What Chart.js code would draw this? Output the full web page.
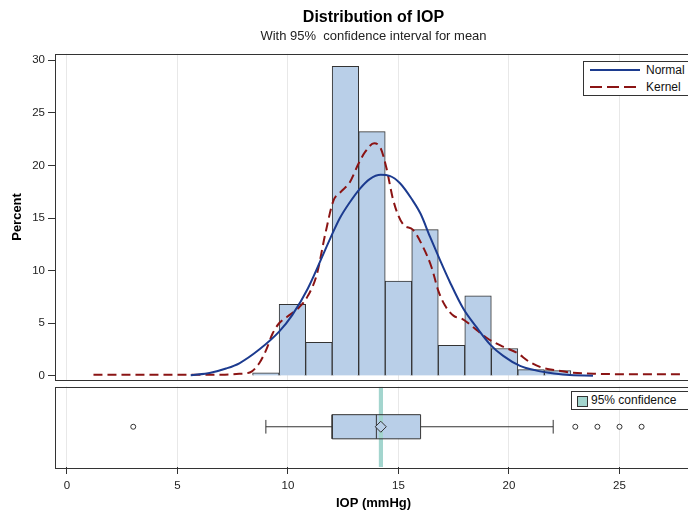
<!DOCTYPE html>
<html>
<head>
<meta charset="utf-8">
<script src="https://cdn.jsdelivr.net/npm/chart.js@4.4.1/dist/chart.umd.min.js"></script>
<style>
  html, body { margin: 0; padding: 0; width: 688px; height: 511px; overflow: hidden; background: #fff; }
  #wrap { position: relative; width: 688px; height: 511px; overflow: hidden; }
  canvas { position: absolute; left: 0; }
  #histChart { top: 0; }
  #boxChart { top: 380px; }
  .legend { position: absolute; background: #fff; border: 1px solid #333; box-sizing: border-box;
            font: 12px "Liberation Sans", Arial, sans-serif; color: #111; }
  .legend span, .legend svg, .legend i { position: absolute; }
  .legend span { line-height: 14px; white-space: nowrap; }
</style>
</head>
<body>
<div id="wrap">
  <canvas id="histChart" width="700" height="390"></canvas>
  <canvas id="boxChart" width="700" height="131"></canvas>

  <div class="legend" style="left:583px; top:61px; width:120px; height:35px;">
    <svg style="left:6px; top:3px" width="50" height="10"><line x1="0" y1="5" x2="50" y2="5" stroke="#1c3b8f" stroke-width="2"/></svg>
    <span style="left:62px; top:1px">Normal</span>
    <svg style="left:6px; top:20px" width="50" height="10"><line x1="0" y1="5" x2="50" y2="5" stroke="#8b1414" stroke-width="2" stroke-dasharray="12,5"/></svg>
    <span style="left:62px; top:18px">Kernel</span>
  </div>

  <div class="legend" style="left:571px; top:391px; width:125px; height:19px;">
    <i style="left:5px; top:4px; width:9px; height:9px; background:#a3d5ce; border:1px solid #333;"></i>
    <span style="left:19px; top:1px">95% confidence</span>
  </div>
</div>

<script>
// histogram bins (midpoints, width 1.2) and percent per bin
const binMid = [9.0, 10.2, 11.4, 12.6, 13.8, 15.0, 16.2, 17.4, 18.6, 19.8, 21.0, 22.2];
const binPct = [0.3, 6.8, 3.2, 29.4, 23.2, 9.0, 13.9, 2.9, 7.6, 2.6, 0.6, 0.5];

// fitted normal curve
const normalX = [5.6, 6.5, 7.2, 7.8, 8.7, 9.6, 10.2, 10.9, 11.9, 12.35, 12.8, 13.26, 13.7, 14.2, 14.6,
                 15.07, 15.6, 16.0, 16.43, 16.88, 17.33, 17.93, 18.54, 19.14, 19.74, 20.5, 21.25, 21.8, 22.6, 23.8];
const normalY = [0.05, 0.3, 0.7, 1.2, 2.5, 4.2, 5.8, 8.3, 13.0, 15.0, 16.5, 17.8, 18.7, 19.1, 19.0,
                 18.3, 16.8, 15.4, 13.2, 11.0, 8.9, 6.4, 4.6, 3.0, 1.9, 0.95, 0.5, 0.3, 0.1, 0.02];

// kernel density curve
const kernelX = [1.2, 3, 5, 7, 7.8, 8.3, 8.7, 9.0, 9.3, 9.6, 9.95, 10.5, 10.9, 11.3, 11.7, 12.05, 12.4, 12.8,
                 13.2, 13.5, 13.9, 14.2, 14.45, 14.75, 15.0, 15.25, 15.65, 16.1, 16.5, 16.8, 17.1, 17.5, 17.9,
                 18.4, 19.0, 19.7, 20.35, 20.95, 21.55, 22.2, 22.9, 24.0, 26.0, 27.8];
const kernelY = [0.1, 0.1, 0.1, 0.12, 0.2, 0.35, 1.2, 2.4, 4.0, 5.0, 5.6, 6.5, 7.6, 9.6, 13.6, 16.6, 17.5, 18.4,
                 20.2, 21.3, 22.1, 21.6, 19.8, 16.8, 15.2, 14.3, 13.9, 12.3, 10.3, 8.1, 6.7, 5.7, 5.4,
                 4.6, 3.6, 2.8, 2.2, 1.3, 0.75, 0.5, 0.3, 0.2, 0.15, 0.15];

// box plot summary
const whiskerLow = 9, q1 = 12, median = 14, q3 = 16, whiskerHigh = 22, mean = 14.2;
const outliers = [3, 23, 24, 25, 26];
const ciMean = [14.1, 14.3];

const FONT = '"Liberation Sans", Arial, sans-serif';
const X_MIN = -0.54, X_MAX = 28.28;
const barFill = '#b9cfe8', dark = '#333333', gridCol = '#e8e8e8';

const pts = (xs, ys) => xs.map((x, i) => ({ x: x, y: ys[i] }));

const frame = {
  id: 'frame',
  afterDatasetsDraw(chart) {
    const { ctx, chartArea: a } = chart;
    ctx.save();
    ctx.strokeStyle = dark;
    ctx.lineWidth = 1;
    ctx.strokeRect(Math.round(a.left) + 0.5, Math.round(a.top) + 0.5,
                   Math.round(a.right - a.left), Math.round(a.bottom - a.top));
    ctx.restore();
  }
};

new Chart(document.getElementById('histChart'), {
  type: 'bar',
  data: {
    datasets: [
      {
        type: 'line', label: 'Normal', order: 1,
        data: pts(normalX, normalY),
        borderColor: '#1c3b8f', borderWidth: 2, pointRadius: 0,
        cubicInterpolationMode: 'monotone', fill: false
      },
      {
        type: 'line', label: 'Kernel', order: 2,
        data: pts(kernelX, kernelY),
        borderColor: '#8b1414', borderWidth: 2, borderDash: [9, 5], pointRadius: 0,
        cubicInterpolationMode: 'monotone', fill: false
      },
      {
        type: 'bar', label: 'Percent', order: 3,
        data: pts(binMid, binPct),
        backgroundColor: barFill, borderColor: dark, borderWidth: 1,
        barPercentage: 1, categoryPercentage: 1
      }
    ]
  },
  options: {
    responsive: false,
    animation: false,
    layout: { padding: { top: 0, right: 8, bottom: 9, left: 0 } },
    scales: {
      x: {
        type: 'linear', min: X_MIN, max: X_MAX, offset: false,
        ticks: { display: false, stepSize: 5, includeBounds: false },
        grid: { color: gridCol, drawTicks: false, offset: false },
        border: { display: false },
        afterFit(s) { s.height = 0; }
      },
      y: {
        min: -0.4, max: 30.6,
        ticks: { stepSize: 5, includeBounds: false, padding: 3, color: '#222', font: { family: FONT, size: 11.5 } },
        grid: { drawOnChartArea: false, drawTicks: true, tickLength: 7, color: dark },
        border: { display: false },
        title: { display: true, text: 'Percent', color: '#000', padding: { top: 10, bottom: 0 },
                 font: { family: FONT, size: 13, weight: 'bold' } },
        afterFit(s) { s.width = 55; }
      }
    },
    plugins: {
      legend: { display: false },
      tooltip: { enabled: false },
      title: {
        display: true, text: 'Distribution of IOP', fullSize: false, color: '#000',
        font: { family: FONT, size: 16, weight: 'bold' }, padding: { top: 8, bottom: 1 }
      },
      subtitle: {
        display: true, text: 'With 95%  confidence interval for mean', fullSize: false, color: '#222',
        font: { family: FONT, size: 13 }, padding: { top: 0, bottom: 10 }
      }
    }
  },
  plugins: [frame]
});

// vertical layout of the box row inside the lower panel (0..1)
const MID = 0.5, BOX_H = 0.15, CAP_H = 0.085;
const lineDs = (data, extra) => Object.assign({
  type: 'line', data: data, borderColor: dark, borderWidth: 1, pointRadius: 0, fill: false
}, extra || {});

new Chart(document.getElementById('boxChart'), {
  type: 'line',
  data: {
    datasets: [
      lineDs(outliers.map(v => ({ x: v, y: MID })), {
        order: 1, showLine: false, pointRadius: 2.5, pointStyle: 'circle',
        pointBackgroundColor: '#fff', pointBorderColor: dark, pointBorderWidth: 1
      }),
      lineDs([{ x: mean, y: MID }], {
        order: 1, showLine: false, pointRadius: 5.5, pointStyle: 'rectRot',
        pointBackgroundColor: barFill, pointBorderColor: dark, pointBorderWidth: 1
      }),
      lineDs([{ x: median, y: MID - BOX_H }, { x: median, y: MID + BOX_H }], { order: 2 }),
      lineDs([{ x: q1, y: MID - BOX_H }, { x: q3, y: MID - BOX_H }, { x: q3, y: MID + BOX_H },
              { x: q1, y: MID + BOX_H }, { x: q1, y: MID - BOX_H }], { order: 2 }),
      lineDs([{ x: whiskerLow, y: MID }, { x: q1, y: MID }], { order: 2 }),
      lineDs([{ x: q3, y: MID }, { x: whiskerHigh, y: MID }], { order: 2 }),
      lineDs([{ x: whiskerLow, y: MID - CAP_H }, { x: whiskerLow, y: MID + CAP_H }], { order: 2 }),
      lineDs([{ x: whiskerHigh, y: MID - CAP_H }, { x: whiskerHigh, y: MID + CAP_H }], { order: 2 }),
      // 95% CI of mean, full panel height
      lineDs([{ x: ciMean[0], y: 1 }, { x: ciMean[1], y: 1 }], {
        order: 4, borderWidth: 0, fill: 'start', backgroundColor: '#a3d5ce'
      }),
      // box fill between upper and lower edges
      lineDs([{ x: q1, y: MID + BOX_H }, { x: q3, y: MID + BOX_H }], {
        order: 5, borderWidth: 0, fill: '+1', backgroundColor: barFill
      }),
      lineDs([{ x: q1, y: MID - BOX_H }, { x: q3, y: MID - BOX_H }], { order: 5, borderWidth: 0 })
    ]
  },
  options: {
    responsive: false,
    animation: false,
    layout: { padding: { top: 5, right: 8, bottom: 0, left: 0 } },
    scales: {
      x: {
        type: 'linear', min: X_MIN, max: X_MAX, offset: false,
        ticks: { stepSize: 5, includeBounds: false, padding: 5, color: '#222', font: { family: FONT, size: 11.5 } },
        grid: { color: gridCol, tickColor: dark, tickLength: 7 },
        border: { display: false },
        title: { display: true, text: 'IOP (mmHg)', color: '#000', padding: { top: 2, bottom: 0 },
                 font: { family: FONT, size: 13, weight: 'bold' } },
        afterFit(s) { s.height = 44; }
      },
      y: {
        type: 'linear', min: 0, max: 1,
        ticks: { display: false },
        grid: { display: false },
        border: { display: false },
        afterFit(s) { s.width = 55; }
      }
    },
    plugins: {
      legend: { display: false },
      tooltip: { enabled: false }
    }
  },
  plugins: [frame]
});
</script>
</body>
</html>
